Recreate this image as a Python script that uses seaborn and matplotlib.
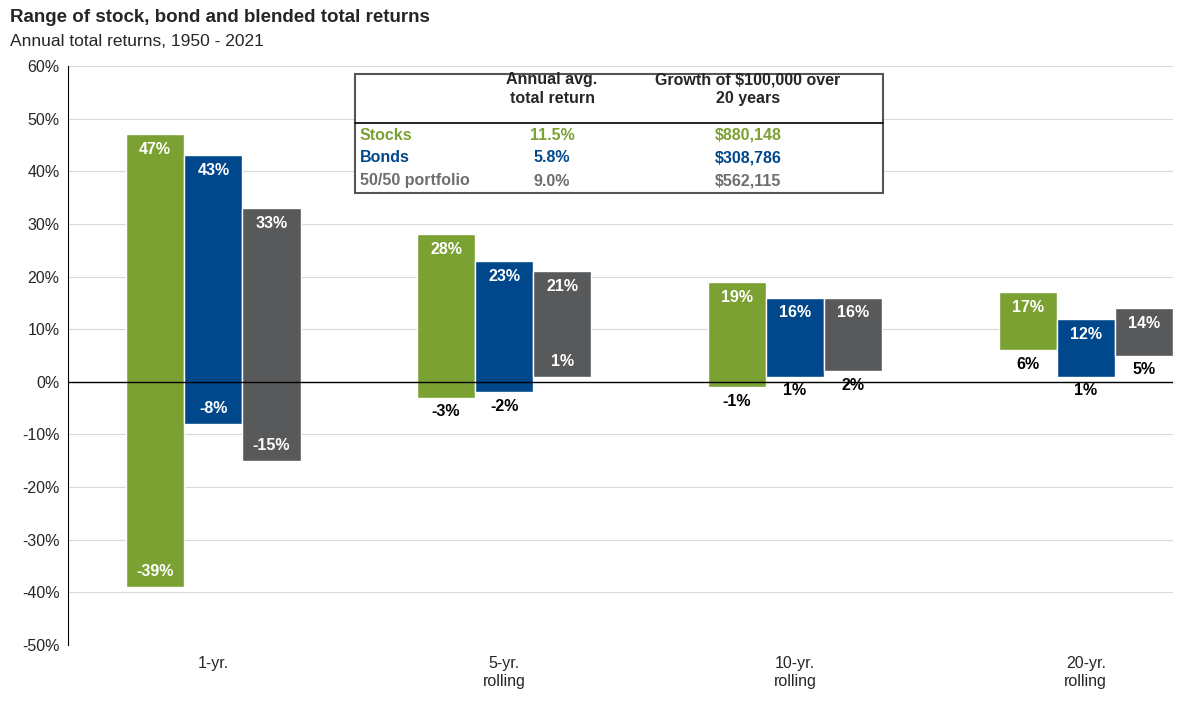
import matplotlib
matplotlib.use("Agg")
import matplotlib.pyplot as plt
import seaborn as sns
import pandas as pd
import numpy as np

periods = ["1-yr.", "5-yr.\nrolling", "10-yr.\nrolling", "20-yr.\nrolling"]
series = ["Stocks", "Bonds", "50/50 portfolio"]
highs = {"Stocks": [47, 28, 19, 17], "Bonds": [43, 23, 16, 12], "50/50 portfolio": [33, 21, 16, 14]}
lows = {"Stocks": [-39, -3, -1, 6], "Bonds": [-8, -2, 1, 1], "50/50 portfolio": [-15, 1, 2, 5]}
low_inside = {"Stocks": [True, False, False, False], "Bonds": [True, False, False, False],
              "50/50 portfolio": [True, True, False, False]}
colors = {"Stocks": "#7BA133", "Bonds": "#00478C", "50/50 portfolio": "#58595B"}
table_avg = ["11.5%", "5.8%", "9.0%"]
table_growth = ["$880,148", "$308,786", "$562,115"]

rows = []
for s in series:
    for i, p in enumerate(periods):
        rows.append(dict(period=p, series=s, high=highs[s][i], low=lows[s][i]))
df = pd.DataFrame(rows)

sns.set_theme(style="white")
plt.rcParams['font.family'] = ['Liberation Sans', 'DejaVu Sans']
fig = plt.figure(figsize=(11.88, 7.05), dpi=100)
ax = fig.add_axes([68/1188, 60/705, 1105/1188, 579/705])

w = 0.2
offs = {"Stocks": -w, "Bonds": 0, "50/50 portfolio": w}
for s in series:
    d = df[df.series == s]
    x = np.arange(len(periods)) + offs[s]
    ax.bar(x, d.high - d.low, bottom=d.low, width=w, color=colors[s], zorder=3)
    for xi, hi, lo, ins in zip(x, d.high, d.low, low_inside[s]):
        ax.text(xi, hi - 1.5, f"{hi}%", ha="center", va="top", color="white",
                fontsize=11.5, fontweight="bold", zorder=4)
        if ins:
            ax.text(xi, lo + 1.5, f"{lo}%", ha="center", va="bottom", color="white",
                    fontsize=11.5, fontweight="bold", zorder=4)
        else:
            ax.text(xi, lo - 1.3, f"{lo}%", ha="center", va="top", color="black",
                    fontsize=11.5, fontweight="bold", zorder=4)

ax.set_xlim(-0.5, 3.3)
ax.set_ylim(-50, 60)
ax.set_yticks(range(-50, 61, 10))
ax.set_yticklabels([f"{v}%" for v in range(-50, 61, 10)], fontsize=11.5)
ax.set_xticks(range(len(periods)))
ax.set_xticklabels(periods, fontsize=11.5)
ax.tick_params(axis="x", length=0, pad=8)
ax.tick_params(axis="y", length=0, pad=6)
ax.grid(axis="y", color="#D9D9D9", linewidth=0.8, zorder=0)
ax.axhline(0, color="black", linewidth=1, zorder=3.5)
for sp in ["top", "right", "bottom"]:
    ax.spines[sp].set_visible(False)
ax.spines["left"].set_color("black")
ax.spines["left"].set_linewidth(0.8)

# table
x0, x1, y0, y1 = 0.26, 0.738, 0.781, 0.986
ax.add_patch(plt.Rectangle((x0, y0), x1 - x0, y1 - y0, transform=ax.transAxes,
                           facecolor="white", edgecolor="#555555", linewidth=1.5, zorder=5))
yl = 1 - 57/579
ax.plot([x0, x1], [yl, yl], transform=ax.transAxes, color="black", linewidth=1.2, zorder=6)
c2 = (552-68)/1105; c3 = (748-68)/1105; cl = (360-68)/1105
ax.text(c2, 1 - 23/579, "Annual avg.\ntotal return", transform=ax.transAxes, ha="center",
        va="center", fontsize=11.5, fontweight="bold", zorder=6, linespacing=1.3)
ax.text(c3, 1 - 23/579, "Growth of $100,000 over\n20 years", transform=ax.transAxes, ha="center",
        va="center", fontsize=11.5, fontweight="bold", zorder=6, linespacing=1.3)
for k, s in enumerate(series):
    yy = 1 - (69 + 23*k)/579
    for xx, t, ha in [(cl, s, "left"), (c2, table_avg[k], "center"), (c3, table_growth[k], "center")]:
        ax.text(xx, yy, t, transform=ax.transAxes, ha=ha, va="center", fontsize=11.5,
                fontweight="bold", color=colors[s] if s != "50/50 portfolio" else "#6D6E71", zorder=6)

fig.text(10/1188, 1 - 17/705, "Range of stock, bond and blended total returns", fontsize=13.5,
         fontweight="bold", va="center")
fig.text(10/1188, 1 - 41/705, "Annual total returns, 1950 - 2021", fontsize=12.5, va="center")
fig.savefig("out.png", dpi=100)
